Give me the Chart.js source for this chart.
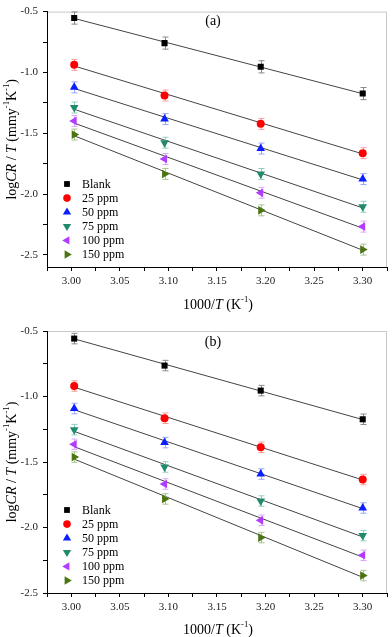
<!DOCTYPE html>
<html>
<head>
<meta charset="utf-8">
<script src="https://cdn.jsdelivr.net/npm/chart.js@4.4.0/dist/chart.umd.min.js"></script>
<style>
  html, body { margin: 0; padding: 0; background: #fff; }
  .panel { position: absolute; left: 0; width: 392px; }
  #boxA { top: 0; height: 318px; }
  #boxB { top: 318px; height: 319px; }
</style>
</head>
<body>
<div class="panel" id="boxA"><canvas id="chartA"></canvas></div>
<div class="panel" id="boxB"><canvas id="chartB"></canvas></div>
<script>
// 1000/T values (K^-1)
const xVals = [3.003, 3.096, 3.195, 3.300];
const seriesNames = ['Blank', '25 ppm', '50 ppm', '75 ppm', '100 ppm', '150 ppm'];

// panel (a) logCR/T values, one row per series
const valsA = [
  [-0.553, -0.759, -0.954, -1.174],
  [-0.938, -1.190, -1.423, -1.664],
  [-1.123, -1.383, -1.626, -1.877],
  [-1.289, -1.578, -1.835, -2.105],
  [-1.399, -1.712, -1.990, -2.268],
  [-1.511, -1.835, -2.134, -2.457]
];
// panel (b)
const valsB = [
  [-0.558, -0.764, -0.955, -1.174],
  [-0.920, -1.166, -1.388, -1.634],
  [-1.092, -1.352, -1.592, -1.851],
  [-1.253, -1.538, -1.798, -2.062],
  [-1.365, -1.668, -1.945, -2.212],
  [-1.462, -1.782, -2.077, -2.367]
];

// fitted straight lines, value at first and last x
const fitStartA = [-0.556, -0.947, -1.132, -1.303, -1.417, -1.521];
const fitEndA   = [-1.175, -1.670, -1.884, -2.114, -2.281, -2.462];
const fitStartB = [-0.560, -0.929, -1.101, -1.266, -1.383, -1.478];
const fitEndB   = [-1.176, -1.637, -1.856, -2.072, -2.226, -2.380];

// error bar half widths
const errA = [0.05, 0.045, 0.045, 0.045, 0.045, 0.045];
const errB = [0.04, 0.04, 0.04, 0.04, 0.04, 0.04];

// tick labels
const xTickLabels = [3.00, 3.05, 3.10, 3.15, 3.20, 3.25, 3.30];
const yTickLabels = [-2.5, -2.0, -1.5, -1.0, -0.5];

const colors    = ['#000000', '#ff0000', '#0a1eff', '#1f8a6c', '#b13cff', '#4b7510'];
const errColors = ['#8a8a8a', '#ff9a9a', '#9aa6ff', '#8fcfbd', '#dba6ff', '#a9c48c'];
const shapes    = ['rect', 'circle', 'triangle', 'triangle', 'triangle', 'triangle'];
const rotations = [0, 0, 0, 180, 270, 90];
const radii     = [4.3, 4.0, 5.0, 5.0, 5.0, 5.0];

const FONT = "'Liberation Serif', 'DejaVu Serif', serif";

// draw text made of segments (italic / superscript)
function drawRich(ctx, segs, cx, cy, size) {
  const fontOf = s => (s.i ? 'italic ' : '') + (s.sup ? size * 0.62 : size) + 'px ' + FONT;
  let total = 0;
  segs.forEach(s => { ctx.font = fontOf(s); s.w = ctx.measureText(s.t).width; total += s.w; });
  let x = cx - total / 2;
  ctx.textAlign = 'left';
  ctx.textBaseline = 'middle';
  segs.forEach(s => {
    ctx.font = fontOf(s);
    ctx.fillText(s.t, x, s.sup ? cy - size * 0.35 : cy);
    x += s.w;
  });
}

const errorBars = {
  id: 'errorBars',
  beforeDatasetDraw(chart, args) {
    const ds = chart.data.datasets[args.index];
    if (ds.err === undefined) return;
    const ctx = chart.ctx;
    const ys = chart.scales.y;
    ctx.save();
    ctx.strokeStyle = ds.errColor;
    ctx.lineWidth = 1;
    args.meta.data.forEach((pt, i) => {
      const v = ds.data[i].y;
      const x = Math.round(pt.x) + 0.5;
      const y1 = ys.getPixelForValue(v + ds.err);
      const y2 = ys.getPixelForValue(v - ds.err);
      ctx.beginPath();
      ctx.moveTo(x, y1); ctx.lineTo(x, y2);
      ctx.moveTo(x - 3, y1); ctx.lineTo(x + 3, y1);
      ctx.moveTo(x - 3, y2); ctx.lineTo(x + 3, y2);
      ctx.stroke();
    });
    ctx.restore();
  }
};

const frame = {
  id: 'frame',
  beforeDraw(chart) {
    const a = chart.chartArea, ctx = chart.ctx;
    ctx.save();
    ctx.strokeStyle = '#c8c8c8';
    ctx.lineWidth = 1;
    ctx.strokeRect(a.left + 0.5, a.top + 0.5, a.right - a.left - 1, a.bottom - a.top);
    ctx.restore();
  },
  afterDraw(chart) {
    const a = chart.chartArea, ctx = chart.ctx;
    const o = chart.options.plugins.frame;
    ctx.save();
    ctx.fillStyle = '#000';
    // panel label
    ctx.font = '14px ' + FONT;
    ctx.textAlign = 'center';
    ctx.textBaseline = 'middle';
    ctx.fillText(o.label, 213, a.top + o.labelDy);

    // legend
    const first = a.bottom - 83;
    seriesNames.forEach((name, i) => {
      const y = first + i * 14.1;
      ctx.fillStyle = colors[i];
      ctx.strokeStyle = colors[i];
      Chart.helpers.drawPoint(ctx, {
        pointStyle: shapes[i], rotation: rotations[i], radius: radii[i] - 0.2, borderWidth: 0
      }, 67, y);
      ctx.fillStyle = '#000';
      ctx.font = '12px ' + FONT;
      ctx.textAlign = 'left';
      ctx.textBaseline = 'middle';
      ctx.fillText(name, 82, y + 0.5);
    });

    // x title
    drawRich(ctx, [
      { t: '1000/' }, { t: 'T', i: true }, { t: ' (K' }, { t: '-1', sup: true }, { t: ')' }
    ], 218, chart.height - o.xTitleUp, 14);

    // y title
    ctx.translate(12, (a.top + a.bottom) / 2);
    ctx.rotate(-Math.PI / 2);
    drawRich(ctx, [
      { t: 'log' }, { t: 'CR', i: true }, { t: ' / ' }, { t: 'T', i: true },
      { t: ' (mmy' }, { t: '-1', sup: true }, { t: 'K' }, { t: '-1', sup: true }, { t: ')' }
    ], 0, 0, 14);
    ctx.restore();
  }
};

function makeChart(id, vals, fitStart, fitEnd, errs, yMin, label, padTop, xAxisH, labelDy, xTitleUp) {
  const datasets = [];
  vals.forEach((row, i) => {
    datasets.push({
      type: 'line',
      data: [{ x: xVals[0], y: fitStart[i] }, { x: xVals[xVals.length - 1], y: fitEnd[i] }],
      borderColor: '#444',
      borderWidth: 1,
      pointRadius: 0,
      fill: false,
      order: 10
    });
  });
  vals.forEach((row, i) => {
    datasets.push({
      type: 'scatter',
      label: seriesNames[i],
      data: row.map((v, j) => ({ x: xVals[j], y: v })),
      backgroundColor: colors[i],
      borderColor: colors[i],
      borderWidth: 0,
      pointStyle: shapes[i],
      rotation: rotations[i],
      pointRadius: radii[i],
      err: errs[i],
      errColor: errColors[i],
      order: 1
    });
  });

  const xAll = [];
  for (let k = 0; k <= 14; k++) xAll.push(+(2.975 + k * 0.025).toFixed(3));
  const yAll = [];
  for (let k = 0; k <= 8; k++) yAll.push(+(-2.5 + k * 0.25).toFixed(2));

  return new Chart(document.getElementById(id), {
    data: { datasets },
    plugins: [errorBars, frame],
    options: {
      responsive: true,
      maintainAspectRatio: false,
      animation: false,
      layout: { padding: { top: padTop, right: 2, left: 0, bottom: 0 } },
      plugins: {
        legend: { display: false },
        tooltip: { enabled: false },
        frame: { label: label, labelDy: labelDy, xTitleUp: xTitleUp }
      },
      scales: {
        x: {
          type: 'linear',
          min: 2.975,
          max: 3.325,
          afterBuildTicks: ax => { ax.ticks = xAll.map(v => ({ value: v })); },
          afterFit: ax => { ax.height = xAxisH; },
          ticks: {
            autoSkip: false,
            maxRotation: 0,
            padding: 4,
            color: '#222',
            font: { family: FONT, size: 11 },
            callback: v => xTickLabels.some(t => Math.abs(t - v) < 1e-6) ? v.toFixed(2) : ''
          },
          grid: { drawOnChartArea: false, drawTicks: true, tickLength: 4, color: '#000' },
          border: { color: '#000', width: 1 }
        },
        y: {
          type: 'linear',
          min: yMin,
          max: -0.5,
          afterBuildTicks: ax => { ax.ticks = yAll.map(v => ({ value: v })); },
          afterFit: ax => { ax.width = 47; },
          ticks: {
            autoSkip: false,
            padding: 5,
            color: '#222',
            font: { family: FONT, size: 11 },
            callback: v => yTickLabels.some(t => Math.abs(t - v) < 1e-6) ? v.toFixed(1) : ''
          },
          grid: { drawOnChartArea: false, drawTicks: true, tickLength: 4, color: '#000' },
          border: { color: '#000', width: 1 }
        }
      }
    }
  });
}

makeChart('chartA', valsA, fitStartA, fitEndA, errA, -2.6, '(a)', 5, 51, 10, 13);
makeChart('chartB', valsB, fitStartB, fitEndB, errB, -2.5, '(b)', 13, 44, 11, 7);
</script>
</body>
</html>
